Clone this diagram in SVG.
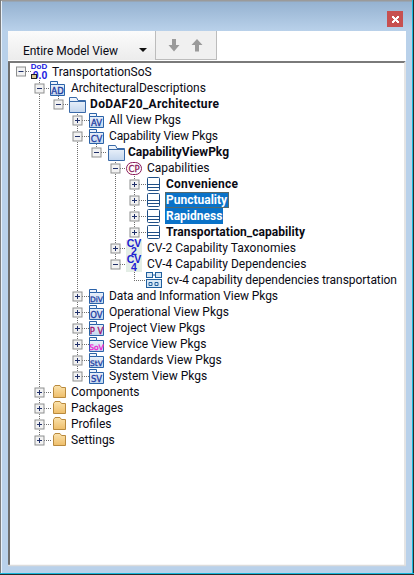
<svg xmlns="http://www.w3.org/2000/svg" width="414" height="575" viewBox="0 0 414 575">
<style>
text{font-family:Roboto,"Noto Sans","DejaVu Sans",sans-serif;font-size:12px;fill:#0a0a14}
.b{font-weight:700;font-size:12px}
.dot{stroke:#6e6e6e;stroke-width:1;stroke-dasharray:1 1;fill:none}
.ic{font-family:"DejaVu Sans",sans-serif;font-size:8.500px;font-weight:400;text-anchor:middle;stroke-width:.3;paint-order:normal}
.cv{font-family:"Liberation Sans",sans-serif;font-size:10.500px;font-weight:700;fill:#2020d0;text-anchor:middle}
.sel{fill:#0a72c8}
.w{fill:#fff}
</style>
<defs>
<linearGradient id="top" x1="0" y1="0" x2="0" y2="1"><stop offset="0" stop-color="#93b0cf"/><stop offset="1" stop-color="#b9d1ea"/></linearGradient>
<linearGradient id="fb" x1="0" y1="0" x2="0" y2="1"><stop offset="0" stop-color="#f4f8fd"/><stop offset="1" stop-color="#c3d6ee"/></linearGradient>
<linearGradient id="fy" x1="0" y1="0" x2="0" y2="1"><stop offset="0" stop-color="#fbe3ad"/><stop offset="1" stop-color="#eebd69"/></linearGradient>
<linearGradient id="tb" x1="0" y1="0" x2="0" y2="1"><stop offset="0" stop-color="#fbfbfb"/><stop offset="1" stop-color="#ececec"/></linearGradient>
<g id="box"><rect x="-4.500" y="-4.500" width="9" height="9" fill="#f2f2f2" stroke="#8e8f8f"/></g>
<g id="plus"><use href="#box"/><path d="M-2.500 0H2.500M0 -2.500V2.500" stroke="#20306a"/></g>
<g id="minus"><use href="#box"/><path d="M-2.500 0H2.500" stroke="#20306a"/></g>
<path id="pkg" d="M.5 .5H7.500V3.500H14.500V14.500H.5ZM.5 3.500H7.500" fill="url(#fb)" stroke="#2a62a8"/>
<g id="fold"><path d="M.5 .5H7.500L9 3.500H16.500V15.500H.5Z" fill="url(#fb)" stroke="#3a6aa8"/><path d="M1 4.500H16" stroke="#3a6aa8"/></g>
<g id="yfold"><path d="M.5 2.500L2 .5H7L8.500 2.500H12.500V12.500H.5Z" fill="url(#fy)" stroke="#b98a3e"/></g>
<g id="cls"><rect x=".5" y=".5" width="12" height="13" rx="1" fill="#fff" stroke="#1f4f86"/><path d="M1 7.500H12M1 10.500H12" stroke="#1f4f86"/></g>
</defs>

<g id="window">
<rect width="414" height="575" fill="#b9d1ea"/>
<rect width="414" height="31" fill="url(#top)"/>
<rect width="414" height="1.500" fill="#9a9a9a"/>
<rect width="1" height="575" fill="#7d7d7d"/>
<rect x="1" y="1" width="1" height="573" fill="#e8f1fa"/>
<rect x="412" y="0" width="1" height="574" fill="#18b8dc"/>
<rect x="413" y="0" width="1" height="575" fill="#2b2b2b"/>
<rect x="0" y="573" width="414" height="1" fill="#18b8dc"/>
<rect x="0" y="574" width="414" height="1" fill="#2b2b2b"/>
</g>
<g id="close-button"><rect x="387" y="11" width="16" height="16" fill="#c75050"/><path d="M392 16h2v1h1v1h1v-1h1v-1h2v2h-1v1h-1v1h1v1h1v2h-2v-1h-1v-1h-1v1h-1v1h-2v-2h1v-1h1v-1h-1v-1h-1z" fill="#fff"/></g>
<g id="toolbar">
<rect x="8" y="31" width="398" height="30" fill="#fff"/>
<rect x="8" y="31" width="148" height="29" fill="url(#tb)"/>
<rect x="156" y="31" width="60" height="29" fill="#f0f0f0"/>
<path d="M155.500 31V60M216.500 31V60M156 59.500H217" stroke="#bcbcbc" fill="none"/>
<text x="23" y="54.500" textLength="95">Entire Model View</text>
<path d="M139 48h8l-4 4z" fill="#111"/>
<path d="M172 39h4v6h3.500l-5.500 6.500 -5.500 -6.500h3.500z" fill="#9a9a9a"/>
<path d="M195 51.500h4v-6.500h3.500l-5.500 -6 -5.500 6h3.500z" fill="#9a9a9a"/>
</g>
<g id="tree-pane">
<rect x="8" y="62" width="398" height="504" fill="#fff"/>
<path d="M8 62H405" stroke="#7a7a7a" stroke-width="2"/>
<path d="M9 62V565" stroke="#6e6e6e" stroke-width="2"/>
<path d="M8 565.500H406M405 62V566" stroke="#dcdcdc" stroke-width="1.500"/>
</g>

<g id="connectors">
<path class="dot" d="M39.500 80V440M58.500 96V104M77.500 112V376M96.500 144V152M115.500 160V264M134.500 176V232M134.500 272V280"/>
<path class="dot" d="M26 71.500H32M44 88.500H50M63 104.500H69M82 120.500H89M82 136.500H89M101 152.500H107M120 168.500H126M139 184.500H147M139 200.500H147M139 216.500H147M139 232.500H147M120 248.500H126M120 264.500H126M134 280.500H146"/>
<path class="dot" d="M82 296.500H89M82 312.500H89M82 328.500H89M82 344.500H89M82 360.500H89M82 376.500H89M44 392.500H52M44 408.500H52M44 424.500H52M44 440.500H52"/>
</g>

<g id="n-root"><use href="#minus" x="21" y="71.500"/>
<text x="39" y="69" style="font:700 8px 'Liberation Sans',sans-serif;fill:#2020e0;text-anchor:middle">DoD</text>
<text x="40" y="79" style="font:700 10.500px 'Liberation Sans',sans-serif;fill:#2020e0;text-anchor:middle">0.0</text>
<rect x="31.500" y="74.500" width="5" height="4" fill="#d8c890" stroke="#222"/>
<text x="52" y="76">TransportationSoS</text></g>

<g id="n-ad"><use href="#minus" x="39.500" y="88.500"/><use href="#pkg" x="50" y="81"/><text class="ic" x="57.500" y="93.500" style="fill:#1a3aa0;stroke:#1a3aa0">AD</text><text x="71" y="92">ArchitecturalDescriptions</text></g>
<g id="n-dodaf"><use href="#minus" x="58.500" y="104.500"/><use href="#fold" x="69" y="97"/><text class="b" x="90" y="108" textLength="129">DoDAF20_Architecture</text></g>
<g id="n-av"><use href="#plus" x="77.500" y="120.500"/><use href="#pkg" x="89" y="113"/><text class="ic" x="96.500" y="125.500" style="fill:#1a3aa0;stroke:#1a3aa0">AV</text><text x="109" y="124">All View Pkgs</text></g>
<g id="n-cv"><use href="#minus" x="77.500" y="136.500"/><use href="#pkg" x="89" y="129"/><text class="ic" x="96.500" y="141.500" style="fill:#1a3aa0;stroke:#1a3aa0">CV</text><text x="109" y="140" textLength="109">Capability View Pkgs</text></g>
<g id="n-cvp"><use href="#minus" x="96.500" y="152.500"/><use href="#fold" x="108" y="145"/><text class="b" x="128" y="156">CapabilityViewPkg</text></g>
<g id="n-caps"><use href="#minus" x="115.500" y="168.500"/><rect x="126.500" y="162.500" width="15" height="12" rx="6" fill="#fff" stroke="#8a1a5a"/><text class="ic" x="134" y="171.500" style="fill:#8a1a5a;stroke:#8a1a5a">CP</text><text x="147" y="172">Capabilities</text></g>
<g id="n-convenience"><use href="#plus" x="134.500" y="184.500"/><use href="#cls" x="147" y="177"/><text class="b" x="166" y="188" textLength="72">Convenience</text></g>
<g id="n-punctuality"><use href="#plus" x="134.500" y="200.500"/><use href="#cls" x="147" y="193"/><rect class="sel" x="165" y="192" width="64" height="16"/><rect x="165.500" y="192.500" width="63" height="15" fill="none" stroke="#a06010" stroke-dasharray="1 1"/><text class="b w" x="166" y="204">Punctuality</text></g>
<g id="n-rapidness"><use href="#plus" x="134.500" y="216.500"/><use href="#cls" x="147" y="209"/><rect class="sel" x="165" y="208" width="58" height="16"/><text class="b w" x="166" y="220">Rapidness</text></g>
<g id="n-transport"><use href="#plus" x="134.500" y="232.500"/><use href="#cls" x="147" y="225"/><text class="b" x="166" y="236" textLength="139">Transportation_capability</text></g>
<g id="n-cv2"><use href="#plus" x="115.500" y="248.500"/><rect x="126" y="240" width="16" height="16" fill="#e4eee6"/><text class="cv" x="134" y="246.500">CV<tspan class="cv" x="134" dy="8.500">2</tspan></text><text x="147" y="252">CV-2 Capability Taxonomies</text></g>
<g id="n-cv4"><use href="#minus" x="115.500" y="264.500"/><rect x="126" y="256" width="16" height="16" fill="#e4eee6"/><text class="cv" x="134" y="262.500">CV<tspan class="cv" x="134" dy="8.500">4</tspan></text><text x="147" y="268">CV-4 Capability Dependencies</text></g>
<g id="n-diagram"><g fill="#d8e8f6" stroke="#1f5f9e"><rect x="146.500" y="272.500" width="6" height="5"/><rect x="155.500" y="272.500" width="6" height="5"/><rect x="146.500" y="279.500" width="15" height="8"/></g><path d="M149 282.500h3v3h-3zM155 282.500h3v3h-3zM152.500 275H155" fill="none" stroke="#1f5f9e"/><text x="167" y="284" textLength="230">cv-4 capability dependencies transportation</text></g>

<g id="n-div"><use href="#plus" x="77.500" y="296.500"/><use href="#pkg" x="89" y="289"/><text class="ic" x="96.500" y="301.500" style="fill:#1a3aa0;stroke:#1a3aa0;font-size:7.500px">DiV</text><text x="109" y="300" textLength="169">Data and Information View Pkgs</text></g>
<g id="n-ov"><use href="#plus" x="77.500" y="312.500"/><use href="#pkg" x="89" y="305"/><text class="ic" x="96.500" y="317.500" style="fill:#1a3aa0;stroke:#1a3aa0">OV</text><text x="109" y="316">Operational View Pkgs</text></g>
<g id="n-pv"><use href="#plus" x="77.500" y="328.500"/><use href="#pkg" x="89" y="321"/><text class="ic" x="96.500" y="333.500" style="fill:#a01070;stroke:#a01070">P V</text><text x="109" y="332">Project View Pkgs</text></g>
<g id="n-sov"><use href="#plus" x="77.500" y="344.500"/><use href="#pkg" x="89" y="337"/><text class="ic" x="96.500" y="349.500" style="fill:#f010d0;stroke:#f010d0;font-size:7.500px">SoV</text><text x="109" y="348">Service View Pkgs</text></g>
<g id="n-stv"><use href="#plus" x="77.500" y="360.500"/><use href="#pkg" x="89" y="353"/><text class="ic" x="96.500" y="365.500" style="fill:#1a3aa0;stroke:#1a3aa0;font-size:7.500px">StV</text><text x="109" y="364">Standards View Pkgs</text></g>
<g id="n-sv"><use href="#plus" x="77.500" y="376.500"/><use href="#pkg" x="89" y="369"/><text class="ic" x="96.500" y="381.500" style="fill:#1a3aa0;stroke:#1a3aa0">SV</text><text x="109" y="380">System View Pkgs</text></g>

<g id="n-components"><use href="#plus" x="39.500" y="392.500"/><use href="#yfold" x="53" y="385"/><text x="71" y="396">Components</text></g>
<g id="n-packages"><use href="#plus" x="39.500" y="408.500"/><use href="#yfold" x="53" y="401"/><text x="71" y="412">Packages</text></g>
<g id="n-profiles"><use href="#plus" x="39.500" y="424.500"/><use href="#yfold" x="53" y="417"/><text x="71" y="428">Profiles</text></g>
<g id="n-settings"><use href="#plus" x="39.500" y="440.500"/><use href="#yfold" x="53" y="433"/><text x="71" y="444">Settings</text></g>
</svg>
